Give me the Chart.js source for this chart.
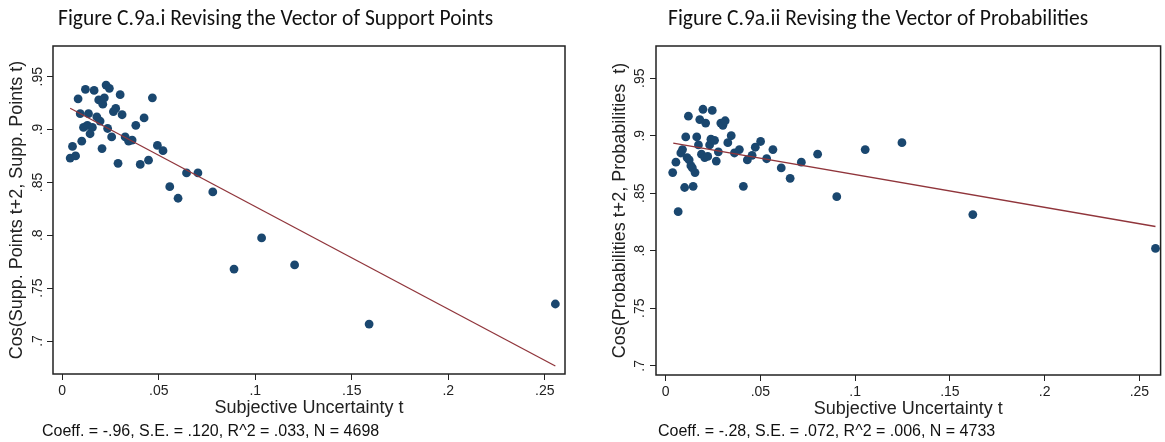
<!DOCTYPE html>
<html>
<head>
<meta charset="utf-8">
<script src="https://cdn.jsdelivr.net/npm/chart.js@4/dist/chart.umd.min.js"></script>
<style>
  html, body { margin: 0; padding: 0; background: #fff; }
  body { width: 1165px; height: 442px; position: relative; overflow: hidden; }
  .panel { position: absolute; top: 0; height: 442px; }
  .title { position: absolute; top: 4px; font: 21.5px Carlito, Calibri, Lato, "Open Sans", sans-serif; color: #111; white-space: nowrap; line-height: 28px; }
  .note { position: absolute; top: 421px; font: 16px "Liberation Sans", Arial, sans-serif; color: #111; white-space: nowrap; line-height: 20px; }
</style>
</head>
<body>
<div class="panel" style="left:0;width:582px"><canvas id="supp"></canvas></div>
<div class="panel" style="left:600px;width:565px"><canvas id="prob"></canvas></div>
<div class="title" style="left:58px">Figure C.9a.i Revising the Vector of Support Points</div>
<div class="title" style="left:668px">Figure C.9a.ii Revising the Vector of Probabilities</div>
<div class="note" style="left:42px">Coeff. = -.96, S.E. = .120, R^2 = .033, N = 4698</div>
<div class="note" style="left:658px">Coeff. = -.28, S.E. = .072, R^2 = .006, N = 4733</div>

<script>
// Binned scatter, panel i: support points
const SUPP_X = [.0041, .0069, .0053, .0082, .0101, .0093, .011, .012, .0136, .013, .0144, .0156,
  .0165, .0179, .0189, .0196, .0206, .021, .0218, .0227, .0244, .0235, .0256, .0265, .0277, .0289,
  .03, .031, .0326, .0344, .0362, .0381, .0404, .0424, .0447, .0467, .0493, .0522, .0557, .06,
  .0644, .0703, .078, .089, .1033, .1204, .159, .2555];
const SUPP_Y = [.873, .875, .884, .929, .889, .915, .902, .938, .915, .904, .896, .902,
  .937, .912, .928, .908, .882, .924, .930, .942, .939, .901, .893, .917, .920, .868,
  .933, .914, .893, .889, .890, .904, .867, .911, .871, .930, .885, .880, .846, .835,
  .859, .859, .841, .768, .7975, .772, .716, .735];
const SUPP_FIT_X = [.0041, .2555];
const SUPP_FIT_Y = [.9201, .6764];

// panel ii: probabilities
const PROB_X = [.0037, .0054, .0066, .008, .0089, .01, .0106, .0113, .012, .0124, .0133, .0145,
  .0141, .0155, .0164, .0173, .018, .0189, .0197, .0206, .0211, .0222, .0232, .0239, .0246, .0258,
  .0267, .0278, .0291, .0302, .0314, .0328, .0346, .0363, .0389, .041, .0431, .0456, .0473, .0501,
  .0533, .0566, .061, .0657, .0716, .0802, .0903, .1053, .1247, .1621, .2585];
const PROB_Y = [.868, .877, .834, .885, .888, .855, .899, .881, .917, .879, .874, .856,
  .872, .868, .899, .892, .914, .884, .923, .881, .911, .882, .892, .897, .922, .896,
  .878, .886, .911, .909, .913, .894, .900, .885, .888, .856, .879, .883, .890, .895,
  .880, .888, .872, .863, .877, .884, .847, .888, .894, .8315, .802];
const PROB_FIT_X = [.004, .2585];
const PROB_FIT_Y = [.8936, .8211];

const X_TICKS = [0, .05, .1, .15, .2, .25];
const X_TICK_LABELS = ["0", ".05", ".1", ".15", ".2", ".25"];
const Y_TICKS = [.7, .75, .8, .85, .9, .95];
const Y_TICK_LABELS = [".7", ".75", ".8", ".85", ".9", ".95"];

const NAVY = "#1a476f";
const MAROON = "#90353b";
const INK = "#222";
const AXIS_FONT = "'Liberation Sans', Arial, sans-serif";

// Stata-style box round the plot region
const framePlugin = {
  id: "frame",
  afterDraw(chart) {
    const { ctx, chartArea: a } = chart;
    ctx.save();
    ctx.strokeStyle = INK;
    ctx.lineWidth = 1.5;
    ctx.strokeRect(a.left, a.top, a.right - a.left, a.bottom - a.top);
    ctx.restore();
  },
};

function pairs(xs, ys) {
  return xs.map((x, i) => ({ x, y: ys[i] }));
}

function makeChart(id, cfg) {
  const labelOf = (ticks, labels) => (v) => {
    const i = ticks.findIndex((t) => Math.abs(t - v) < 1e-9);
    return i >= 0 ? labels[i] : "";
  };
  return new Chart(document.getElementById(id), {
    type: "scatter",
    data: {
      datasets: [
        {
          data: pairs(cfg.fitX, cfg.fitY),
          showLine: true,
          borderColor: MAROON,
          borderWidth: 1.3,
          pointRadius: 0,
          fill: false,
        },
        {
          data: pairs(cfg.xs, cfg.ys),
          backgroundColor: NAVY,
          borderColor: NAVY,
          borderWidth: 0,
          pointRadius: 4.4,
        },
      ],
    },
    options: {
      responsive: true,
      maintainAspectRatio: false,
      animation: false,
      devicePixelRatio: 1,
      layout: { padding: cfg.padding },
      plugins: { legend: { display: false }, tooltip: { enabled: false } },
      scales: {
        x: {
          type: "linear",
          min: cfg.xMin, max: cfg.xMax,
          afterBuildTicks: (s) => { s.ticks = X_TICKS.map((v) => ({ value: v })); },
          afterFit: (s) => { s.height = 45; },
          border: { display: false },
          grid: { drawOnChartArea: false, drawTicks: true, tickLength: 6, color: INK, lineWidth: 1 },
          ticks: {
            callback: labelOf(X_TICKS, X_TICK_LABELS),
            color: INK, padding: 3, maxRotation: 0, autoSkip: false,
            font: { family: AXIS_FONT, size: 14 },
          },
          title: {
            display: true, text: "Subjective Uncertainty t", color: INK,
            padding: { top: 0, bottom: 0 },
            font: { family: AXIS_FONT, size: 18 },
          },
        },
        y: {
          type: "linear",
          min: cfg.yMin, max: cfg.yMax,
          afterBuildTicks: (s) => { s.ticks = Y_TICKS.map((v) => ({ value: v })); },
          afterFit: (s) => { s.width = cfg.yWidth; },
          border: { display: false },
          grid: { drawOnChartArea: false, drawTicks: true, tickLength: 6, color: INK, lineWidth: 1 },
          ticks: {
            callback: labelOf(Y_TICKS, Y_TICK_LABELS),
            color: INK, padding: cfg.yTickPad, minRotation: 90, maxRotation: 90,
            crossAlign: "center", autoSkip: false,
            font: { family: AXIS_FONT, size: 14 },
          },
          title: {
            display: true, text: cfg.yTitle, color: INK,
            padding: { top: cfg.yTitlePad, bottom: 0 },
            font: { family: AXIS_FONT, size: 18 },
          },
        },
      },
    },
    plugins: [framePlugin],
  });
}

makeChart("supp", {
  xs: SUPP_X, ys: SUPP_Y, fitX: SUPP_FIT_X, fitY: SUPP_FIT_Y,
  xMin: -0.0048, xMax: 0.2605, yMin: 0.6688, yMax: 0.979,
  yTitle: "Cos(Supp. Points t+2, Supp. Points t)",
  yWidth: 53, yTickPad: -1, yTitlePad: 6,
  padding: { left: 0, top: 46, right: 17, bottom: 23 },
});

makeChart("prob", {
  xs: PROB_X, ys: PROB_Y, fitX: PROB_FIT_X, fitY: PROB_FIT_Y,
  xMin: -0.0051, xMax: 0.2612, yMin: 0.692, yMax: 0.978,
  yTitle: "Cos(Probabilities t+2, Probabilities  t)",
  yWidth: 56, yTickPad: 0, yTitlePad: 9,
  padding: { left: 0, top: 46, right: 1, bottom: 22 },
});
</script>
</body>
</html>
